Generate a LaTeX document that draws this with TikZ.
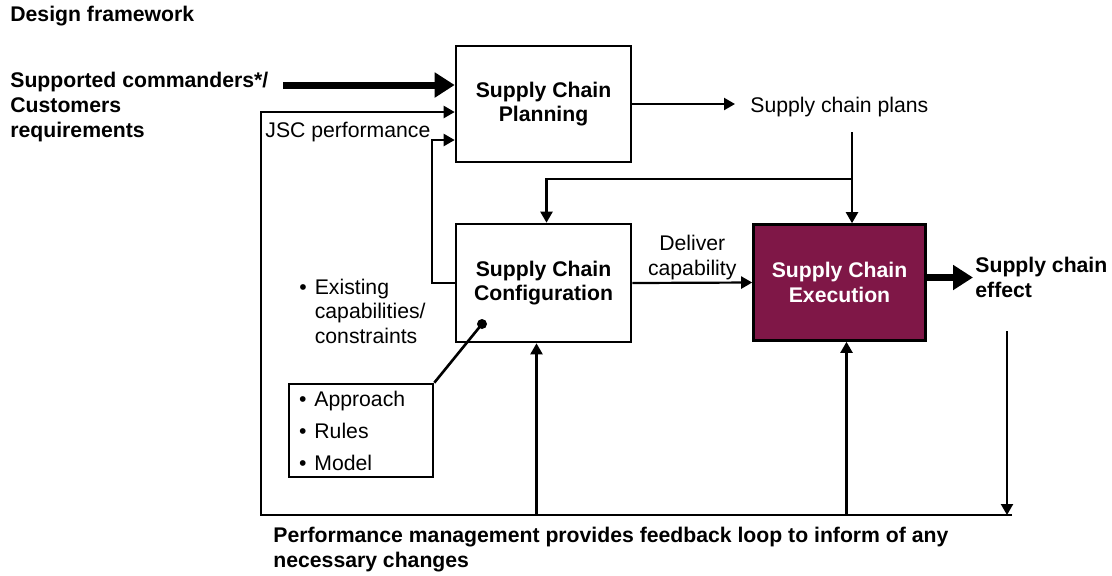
\documentclass[tikz,border=0pt]{standalone}
\usepackage{fontspec}
\setmainfont{Liberation Sans}
\usetikzlibrary{arrows.meta}
\definecolor{scmaroon}{HTML}{7F1747}
\begin{document}
\begin{tikzpicture}[x=0.5pt,y=-0.5pt,
  every node/.style={font=\fontsize{10.6}{12.3}\selectfont},
  boldtxt/.style={font=\fontsize{10.6}{12.3}\selectfont\bfseries},
  block/.style={draw,line width=1.3pt,minimum width=87.5pt,minimum height=58pt,align=center,boldtxt},
  txt/.style={inner sep=0pt,anchor=west,align=left},
  conn/.style={line width=1.1pt,-{Triangle[length=5.5pt,width=6pt]}},
  bigconn/.style={line width=3.5pt,-{Triangle[length=10pt,width=12pt]}}]
  \useasboundingbox (0,0) rectangle (1112,575);

  \node[block] (plan) at (543.5,104) {Supply Chain\\Planning};
  \node[block,minimum height=59pt] (config) at (543.5,283) {Supply Chain\\Configuration};
  \node[block,fill=scmaroon,text=white,minimum width=86pt] (exec) at (839.5,282.5) {Supply Chain\\Execution};
  \node[draw,line width=1.3pt,minimum width=72pt,minimum height=46.5pt,inner xsep=5pt,text width=62pt,align=left] (model) at (361,430.5)
    {\textbullet\hspace{4pt}Approach\\[3.7pt]\textbullet\hspace{4pt}Rules\\[3.7pt]\textbullet\hspace{4pt}Model};

  \node[txt,boldtxt] (title) at (10,16) {Design framework};
  \node[txt,boldtxt] (req) at (10,107) {Supported commanders*/\\Customers\\requirements};
  \node[txt] (jsc) at (265,132) {JSC performance};
  \node[txt,inner xsep=7.5pt] (plans) at (735,107) {Supply chain plans};
  \node[txt,boldtxt,inner xsep=1pt] (effect) at (973,277.5) {Supply chain\\effect};
  \node[txt] (exist) at (299,314) {\textbullet\hspace{4pt}\begin{tabular}[t]{@{}l@{}}Existing\\capabilities/\\constraints\end{tabular}};
  \node[txt,boldtxt] (perf) at (273,549.5) {Performance management provides feedback loop to inform of any\\necessary changes};

  \coordinate (reqout) at (283,85);
  \coordinate (plansdrop) at (852,132);
  \coordinate (split) at (852,179);
  \coordinate (effdrop) at (1007,331);
  \coordinate (fbright) at (1012,515);
  \coordinate (fbleft) at (261,515);
  \coordinate (cfgdot) at (482,324);

  \draw[bigconn] (reqout) -- (reqout -| plan.west);
  \draw[bigconn] (exec.east |- effect.west) -- (effect.west);
  \draw[conn] (plan.east) -- (plan.east -| plans.west);
  \draw[conn] (plansdrop) -- (plansdrop |- exec.north);
  \draw[conn] (split) -| ([xshift=1.5pt]config.north);
  \draw[conn] (config.west) -- ++(-11.5pt,0) |- ([yshift=-18pt]plan.west);
  \draw[conn] (config.east) -- node[above=1pt,inner sep=0pt,align=center] (deliver) {Deliver\\capability} (exec.west);

  % feedback loop
  \draw[conn] (fbright) -- (fbleft) |- ([yshift=-4pt]plan.west);
  \draw[conn] (effdrop) -- (effdrop |- fbright);
  \draw[conn] ([xshift=-3.5pt]config.south |- fbleft) -- ([xshift=-3.5pt]config.south);
  \draw[conn] ([xshift=3.5pt]exec.south |- fbleft) -- ([xshift=3.5pt]exec.south);

  \fill (cfgdot) circle (2.5pt);
  \draw[line width=1.3pt] (cfgdot) -- (model.north east);
\end{tikzpicture}
\end{document}
